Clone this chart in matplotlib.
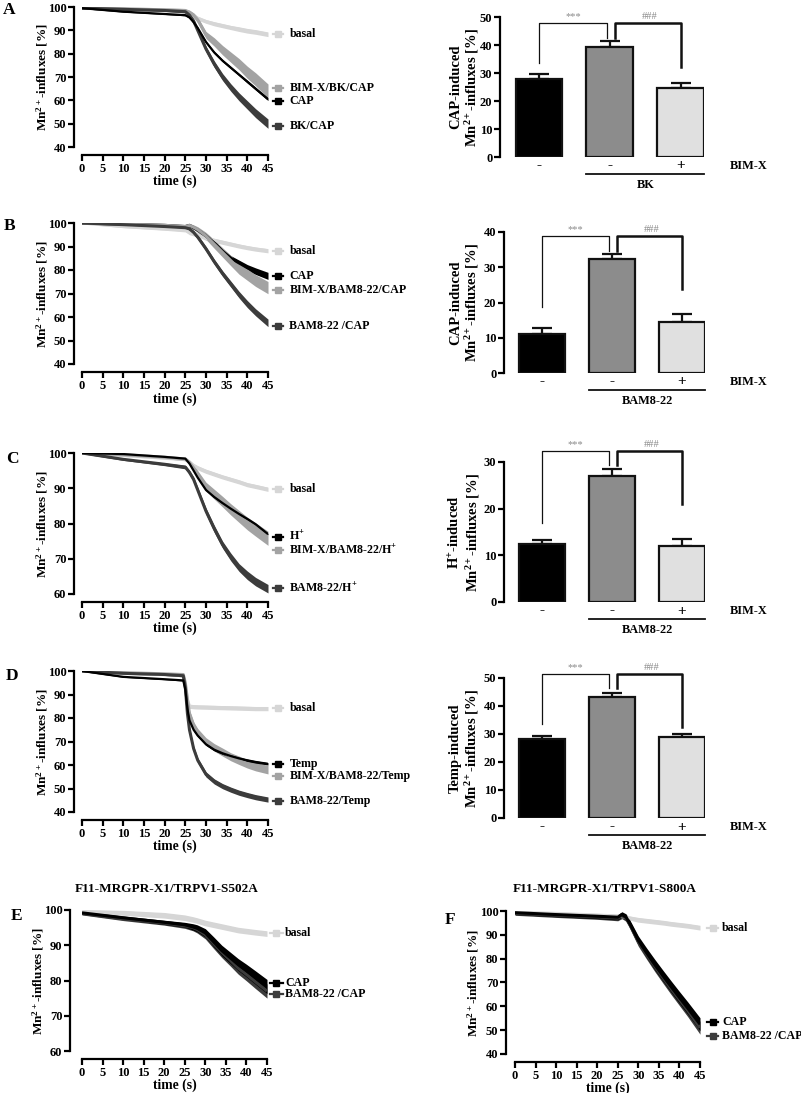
import matplotlib
matplotlib.use('Agg')
import matplotlib.pyplot as plt
from matplotlib.transforms import offset_copy
import numpy as np

plt.rcParams['font.family'] = ['Liberation Serif', 'DejaVu Serif']
plt.rcParams['font.weight'] = 'bold'
plt.rcParams['mathtext.fontset'] = 'custom'
plt.rcParams['mathtext.rm'] = 'Liberation Serif:bold'
plt.rcParams['mathtext.it'] = 'Liberation Serif:italic:bold'
plt.rcParams['mathtext.bf'] = 'Liberation Serif:bold'
plt.rcParams['mathtext.default'] = 'regular'

# ---------------- DATA ----------------
t_std = [0, 10, 20, 25, 26, 27, 28, 30, 32, 34, 36, 38, 40, 42, 45]

# Panel A
A_basal = [99.5, 99.2, 98.8, 98.5, 97.5, 96.2, 95.2, 93.8, 92.8, 92.0, 91.2, 90.5, 89.8, 89.3, 88.3]
A_basal_sem = [0.3, 0.3, 0.4, 0.5, 0.6, 0.7, 0.8, 0.8, 0.9, 0.9, 0.9, 1.0, 1.0, 1.0, 1.0]
A_cap = [99.5, 98.0, 97.0, 96.5, 95.5, 93.5, 91.0, 85.0, 80.5, 77.0, 74.0, 71.0, 68.0, 65.0, 60.5]
A_cap_sem = [0.2, 0.2, 0.2, 0.3, 0.3, 0.3, 0.4, 0.4, 0.5, 0.5, 0.5, 0.5, 0.6, 0.6, 0.6]
A_bim = [99.5, 99.2, 98.8, 98.5, 97.8, 96.5, 94.5, 88.0, 85.0, 81.5, 78.5, 75.5, 72.0, 69.0, 64.0]
A_bim_sem = [0.3, 0.3, 0.4, 0.5, 0.8, 1.0, 1.2, 1.5, 1.8, 2.0, 2.2, 2.4, 2.6, 2.8, 3.0]
A_bk = [99.5, 99.0, 98.5, 98.0, 96.5, 94.0, 90.0, 82.0, 75.5, 70.0, 65.5, 61.5, 58.0, 54.5, 50.0]
A_bk_sem = [0.3, 0.3, 0.4, 0.5, 0.7, 0.9, 1.0, 1.2, 1.4, 1.5, 1.6, 1.7, 1.8, 1.9, 2.0]

# Panel B
B_basal = [100, 98.5, 97.5, 97.0, 96.0, 95.5, 95.0, 93.5, 92.6, 91.8, 91.0, 90.2, 89.5, 88.9, 88.2]
B_basal_sem = [0.4, 0.5, 0.6, 0.8, 1.0, 1.0, 0.9, 0.9, 0.9, 0.9, 0.9, 0.9, 0.9, 0.9, 0.9]
B_cap = [100, 99.5, 99.0, 98.5, 99.0, 98.0, 97.0, 94.5, 91.5, 88.0, 85.0, 83.0, 81.0, 79.5, 77.5]
B_cap_sem = [0.4, 0.4, 0.4, 0.5, 0.6, 0.6, 0.7, 0.8, 0.9, 1.0, 1.1, 1.2, 1.3, 1.4, 1.5]
B_bim = [100, 99.5, 99.0, 98.5, 99.0, 98.2, 97.2, 94.5, 91.0, 87.5, 84.0, 80.5, 78.0, 75.5, 72.5]
B_bim_sem = [0.4, 0.4, 0.5, 0.6, 0.8, 1.0, 1.2, 1.5, 1.8, 2.0, 2.2, 2.3, 2.4, 2.5, 2.6]
B_bam = [100, 99.3, 98.5, 98.0, 97.5, 96.0, 94.0, 89.0, 83.5, 78.5, 74.0, 69.5, 65.5, 62.0, 57.5]
B_bam_sem = [0.4, 0.4, 0.5, 0.6, 0.7, 0.8, 0.9, 1.0, 1.1, 1.2, 1.3, 1.4, 1.5, 1.5, 1.6]

# Panel C
C_basal = [100, 99.3, 98.6, 98.2, 97.5, 96.5, 95.8, 94.8, 94.0, 93.2, 92.5, 91.8, 91.0, 90.5, 89.7]
C_basal_sem = [0.3, 0.3, 0.4, 0.4, 0.5, 0.5, 0.6, 0.6, 0.6, 0.6, 0.6, 0.6, 0.6, 0.6, 0.6]
C_h = [100, 99.7, 98.9, 98.4, 97.0, 95.0, 93.0, 89.5, 87.5, 85.8, 84.2, 82.7, 81.3, 79.8, 77.0]
C_h_sem = [0.1, 0.1, 0.1, 0.2, 0.2, 0.2, 0.2, 0.2, 0.2, 0.2, 0.2, 0.2, 0.2, 0.2, 0.2]
C_bim = [100, 99.5, 98.8, 98.3, 97.3, 95.8, 94.0, 90.5, 88.3, 86.2, 84.0, 82.0, 80.0, 78.3, 75.8]
C_bim_sem = [0.2, 0.3, 0.4, 0.5, 0.6, 0.8, 1.0, 1.2, 1.4, 1.5, 1.6, 1.7, 1.8, 1.9, 2.0]
C_bam = [100, 98.2, 96.8, 96.0, 94.5, 92.5, 89.5, 83.5, 78.5, 74.0, 70.5, 67.5, 65.3, 63.5, 61.5]
C_bam_sem = [0.2, 0.3, 0.4, 0.5, 0.6, 0.7, 0.8, 0.9, 1.0, 1.0, 1.1, 1.1, 1.2, 1.2, 1.2]

# Panel D
t_D = [0, 10, 20, 24.5, 25, 25.5, 26, 27, 28, 30, 32, 34, 36, 38, 40, 42, 45]
D_basal = [100, 99, 98.5, 98.3, 94, 88, 85, 84.8, 84.7, 84.6, 84.5, 84.4, 84.3, 84.2, 84.1, 84.0, 84.0]
D_basal_sem = [0.3, 0.4, 0.5, 0.6, 1.0, 1.0, 0.9, 0.9, 0.9, 0.9, 0.9, 0.9, 0.9, 0.9, 0.9, 0.9, 0.9]
D_temp = [100, 97.5, 96.5, 96.0, 92, 84, 79, 75, 72.5, 68.8, 66.5, 65.0, 63.8, 62.8, 62.0, 61.3, 60.5]
D_temp_sem = [0.2, 0.2, 0.2, 0.3, 0.5, 0.6, 0.6, 0.5, 0.5, 0.5, 0.5, 0.5, 0.5, 0.5, 0.5, 0.5, 0.5]
D_bim = [100, 99.3, 98.8, 98.5, 95, 88, 82, 77, 74, 70, 67.5, 65.5, 63.5, 62, 60.5, 59.3, 58.0]
D_bim_sem = [0.2, 0.3, 0.4, 0.5, 1.0, 1.2, 1.3, 1.4, 1.5, 1.6, 1.6, 1.7, 1.7, 1.8, 1.8, 1.8, 1.8]
D_bam = [100, 99, 98.5, 98.0, 93, 82, 75, 67, 62, 56, 53, 51, 49.5, 48.2, 47.2, 46.3, 45.3]
D_bam_sem = [0.2, 0.3, 0.4, 0.5, 1.0, 1.1, 1.1, 1.1, 1.1, 1.1, 1.1, 1.1, 1.1, 1.1, 1.1, 1.1, 1.1]

# Panel E
t_E = [0, 10, 20, 25, 27, 28, 30, 32, 34, 36, 38, 40, 42, 45]
E_basal = [99.5, 99.2, 98.5, 97.8, 97.3, 97.0, 96.3, 95.8, 95.3, 94.8, 94.3, 94.0, 93.7, 93.3]
E_basal_sem = [0.6, 0.7, 0.8, 0.8, 0.8, 0.8, 0.8, 0.8, 0.8, 0.8, 0.8, 0.8, 0.8, 0.8]
E_cap = [99.2, 97.8, 96.5, 95.8, 95.2, 94.8, 93.5, 91.0, 88.5, 86.5, 84.5, 82.8, 81.0, 78.3]
E_cap_sem = [0.4, 0.5, 0.6, 0.7, 0.9, 1.0, 1.2, 1.4, 1.5, 1.6, 1.7, 1.8, 1.9, 2.0]
E_bam = [99.0, 97.5, 96.3, 95.5, 95.0, 94.5, 93.0, 90.5, 88.0, 85.8, 83.5, 81.7, 79.8, 77.0]
E_bam_sem = [0.4, 0.5, 0.6, 0.7, 0.9, 1.0, 1.2, 1.4, 1.5, 1.6, 1.7, 1.8, 1.9, 2.0]

# Panel F
F_basal = [99.5, 99.0, 98.3, 97.9, 97.6, 97.3, 97.0, 96.3, 95.9, 95.5, 95.1, 94.6, 94.2, 93.8, 93.0]
F_basal_sem = [0.5, 0.6, 0.7, 0.8, 0.9, 0.9, 0.9, 1.0, 1.0, 1.0, 1.0, 1.0, 1.0, 1.0, 1.0]
F_cap = [99.3, 98.5, 97.8, 97.4, 98.5, 97.5, 94.5, 87.7, 82.5, 77.5, 72.8, 68.2, 63.7, 59.3, 52.5]
F_cap_sem = [0.8, 0.9, 1.0, 1.1, 1.2, 1.3, 1.5, 1.8, 2.0, 2.2, 2.3, 2.4, 2.5, 2.6, 2.7]
F_bam = [99.0, 98.2, 97.5, 97.0, 98.0, 97.0, 94.0, 87.0, 81.8, 76.8, 72.0, 67.3, 62.8, 58.3, 51.0]
F_bam_sem = [0.8, 0.9, 1.0, 1.1, 1.2, 1.3, 1.5, 1.8, 2.0, 2.2, 2.3, 2.4, 2.5, 2.6, 2.7]

# Bar panels: [BK/BAM -, BK/BAM -, + BIM-X]
bar_under = ['-', '-', '+']
A_bar = [27.8, 39.3, 24.5]; A_bar_err = [1.8, 2.1, 1.8]
B_bar = [11.2, 32.2, 14.5]; B_bar_err = [1.7, 1.6, 2.3]
C_bar = [12.4, 26.9, 12.1]; C_bar_err = [0.8, 1.5, 1.5]
D_bar = [28.2, 43.2, 28.8]; D_bar_err = [1.2, 1.5, 1.3]

xticks_line = [0, 5, 10, 15, 20, 25, 30, 35, 40, 45]

# ---------------- STYLE ----------------
W, H = 801, 1093
fig = plt.figure(figsize=(W / 100, H / 100), dpi=100)
C_BASAL = '#d6d6d6'
C_GRAY = '#a3a3a3'
C_DARK = '#3c3c3c'
C_BLACK = '#000000'
FS = 9
FS_LEG = 8.6
LW = 2.2
YLAB_LINE = 'Mn$^{2+}$-influxes [%]'


def add_ax(l, r, t, b):
    return fig.add_axes([l / W, 1 - b / H, (r - l) / W, (b - t) / H])


def style_ax(ax):
    for s in ['top', 'right']:
        ax.spines[s].set_visible(False)
    for s in ['left', 'bottom']:
        ax.spines[s].set_linewidth(1.6)
    ax.tick_params(direction='out', length=4, width=1.6, labelsize=FS, pad=1.5)
    for lab in ax.get_xticklabels() + ax.get_yticklabels():
        lab.set_fontweight('bold')


def line_panel(rect, xoff, t, series, ylim, yticks, legend, leg_x, ylab_x, spine_px):
    l, r, tp, b = rect
    ax = add_ax(l, r, tp, b)
    for (mean, sem, col, lw) in series:
        m = np.array(mean); s = np.array(sem)
        ax.fill_between(t, m - s, m + s, color=col, lw=0, zorder=2)
        ax.plot(t, m, color=col, lw=lw, zorder=3, solid_capstyle='butt')
    ax.set_xlim(0, 45)
    ax.set_ylim(*ylim)
    ax.set_xticks(xticks_line)
    ax.set_yticks(yticks)
    ax.spines['left'].set_position(('outward', xoff * 0.72))
    ax.spines['bottom'].set_position(('outward', 8 * 0.72))
    style_ax(ax)
    x0, x1, xt = leg_x
    for (lab, yv, col) in legend:
        ax.plot([x0, x1], [yv, yv], color=col, lw=1.6, clip_on=False, zorder=5)
        ax.plot([(x0 + x1) / 2], [yv], marker='s', ms=4.5, color=col, clip_on=False, zorder=5)
        ax.text(xt, yv, lab, fontsize=FS_LEG, fontweight='bold', va='center', ha='left')
    fig.text(ylab_x / W, 1 - ((tp + b) / 2) / H, YLAB_LINE, rotation=90,
             fontsize=9.5, fontweight='bold', ha='center', va='center')
    fig.text(((l + r) / 2) / W, 1 - (spine_px + 26) / H, 'time (s)', fontsize=9.8,
             fontweight='bold', ha='center', va='center')
    return ax


def bar_panel(rect, vals, errs, ylim, yticks, ylab, treat, br):
    l, r, tp, b = rect
    ax = add_ax(l, r, tp, b)
    pos = [0, 1, 2]
    cols = [C_BLACK, '#8c8c8c', '#e0e0e0']
    ax.bar(pos, vals, width=0.66, color=cols, edgecolor='#111111', lw=1.6, zorder=3)
    ax.errorbar(pos, vals, yerr=[[0, 0, 0], errs], fmt='none', ecolor='#111111',
                elinewidth=1.6, capsize=7, capthick=1.6, zorder=2)
    ax.set_xlim(-0.549, 2.33)
    ax.set_ylim(*ylim)
    ax.set_yticks(yticks)
    ax.spines['bottom'].set_visible(False)
    ax.set_xticks([])
    style_ax(ax)
    top, lbot, mbot, rbot = br
    ax.plot([0, 0, 0.955, 0.955], [lbot, top, top, mbot], color='#111111', lw=0.9, clip_on=False)
    ax.plot([1.075, 1.075, 2, 2], [mbot, top, top, rbot], color='#111111', lw=1.8, clip_on=False)
    ax.annotate('***', xy=(0.48, top), xytext=(0, 1.5), textcoords='offset points',
                ha='center', va='bottom', fontsize=7.5, color='#8a8a8a', fontweight='normal',
                annotation_clip=False)
    ax.annotate('###', xy=(1.56, top), xytext=(0, 1.5), textcoords='offset points',
                ha='center', va='bottom', fontsize=7.5, color='#8a8a8a', fontweight='normal',
                annotation_clip=False)
    for p, s in zip(pos, bar_under):
        ax.annotate(s, xy=(p, ylim[0]), xytext=(0, -9 * 0.72), textcoords='offset points',
                    ha='center', va='center', fontsize=11, fontweight='bold', annotation_clip=False)
    ax.annotate('BIM-X', xy=(2.69, ylim[0]), xytext=(0, -9 * 0.72), textcoords='offset points',
                ha='left', va='center', fontsize=8.8, fontweight='bold', annotation_clip=False)
    trl = offset_copy(ax.transData, fig=fig, x=0, y=-17, units='dots')
    ax.plot([0.67, 2.33], [ylim[0], ylim[0]], color='#111111', lw=1.3, transform=trl, clip_on=False)
    ax.annotate(treat, xy=(1.5, ylim[0]), xytext=(0, -28 * 0.72), textcoords='offset points',
                ha='center', va='center', fontsize=8.8, fontweight='bold', annotation_clip=False)
    fig.text(465 / W, 1 - ((tp + b) / 2) / H, ylab, rotation=90, fontsize=10.5,
             fontweight='bold', ha='center', va='center', multialignment='center',
             linespacing=1.1)
    return ax


# ---------------- PANEL A ----------------
line_panel((82, 268, 7, 147), 8, t_std,
           [(A_basal, A_basal_sem, C_BASAL, LW), (A_bim, A_bim_sem, C_GRAY, LW),
            (A_bk, A_bk_sem, C_DARK, LW), (A_cap, A_cap_sem, C_BLACK, 1.6)],
           (40, 100), [40, 50, 60, 70, 80, 90, 100],
           [('basal', 88.5, C_BASAL), ('BIM-X/BK/CAP', 65.1, C_GRAY),
            ('CAP', 59.7, C_BLACK), ('BK/CAP', 49.0, C_DARK)],
           (46.2, 48.6, 50.2), 42, 155)
bar_panel((500, 704, 17, 157), A_bar, A_bar_err, (0, 50), [0, 10, 20, 30, 40, 50],
          'CAP-induced\n' + YLAB_LINE, 'BK', (47.9, 33.7, 42.5, 32.0))

# ---------------- PANEL B ----------------
line_panel((82, 268, 223, 364), 8, t_std,
           [(B_basal, B_basal_sem, C_BASAL, LW), (B_cap, B_cap_sem, C_BLACK, LW),
            (B_bim, B_bim_sem, C_GRAY, LW), (B_bam, B_bam_sem, C_DARK, LW)],
           (40, 100), [40, 50, 60, 70, 80, 90, 100],
           [('basal', 88.2, C_BASAL), ('CAP', 77.3, C_BLACK),
            ('BIM-X/BAM8-22/CAP', 71.3, C_GRAY), ('BAM8-22 /CAP', 56.3, C_DARK)],
           (46.2, 48.6, 50.2), 42, 373)
bar_panel((504, 705, 232, 373), B_bar, B_bar_err, (0, 40), [0, 10, 20, 30, 40],
          'CAP-induced\n' + YLAB_LINE, 'BAM8-22', (38.9, 18.7, 34.6, 23.8))

# ---------------- PANEL C ----------------
line_panel((82, 268, 453, 594), 8, t_std,
           [(C_basal, C_basal_sem, C_BASAL, LW), (C_bim, C_bim_sem, C_GRAY, LW),
            (C_bam, C_bam_sem, C_DARK, LW), (C_h, C_h_sem, C_BLACK, 1.6)],
           (60, 100), [60, 70, 80, 90, 100],
           [('basal', 89.8, C_BASAL), ('H$^{+}$', 76.3, C_BLACK),
            ('BIM-X/BAM8-22/H$^{+}$', 72.5, C_GRAY), ('BAM8-22/H$^{+}$', 61.6, C_DARK)],
           (46.2, 48.6, 50.2), 42, 602)
bar_panel((504, 705, 462, 602), C_bar, C_bar_err, (0, 30), [0, 10, 20, 30],
          'H$^{+}$-induced\n' + YLAB_LINE, 'BAM8-22', (32.4, 17.0, 29.4, 21.0))

# ---------------- PANEL D ----------------
line_panel((82, 268, 671, 812), 8, t_D,
           [(D_basal, D_basal_sem, C_BASAL, LW), (D_bim, D_bim_sem, C_GRAY, LW),
            (D_bam, D_bam_sem, C_DARK, LW), (D_temp, D_temp_sem, C_BLACK, 1.6)],
           (40, 100), [40, 50, 60, 70, 80, 90, 100],
           [('basal', 84.4, C_BASAL), ('Temp', 60.3, C_BLACK),
            ('BIM-X/BAM8-22/Temp', 55.3, C_GRAY), ('BAM8-22/Temp', 44.7, C_DARK)],
           (46.2, 48.6, 50.2), 42, 820)
bar_panel((504, 705, 678, 818), D_bar, D_bar_err, (0, 50), [0, 10, 20, 30, 40, 50],
          'Temp-induced\n' + YLAB_LINE, 'BAM8-22', (51.4, 33.6, 46.4, 32.5))

# ---------------- PANEL E ----------------
line_panel((82, 267, 910, 1051), 12, t_E,
           [(E_basal, E_basal_sem, C_BASAL, LW), (E_bam, E_bam_sem, C_DARK, LW),
            (E_cap, E_cap_sem, C_BLACK, LW)],
           (60, 100), [60, 70, 80, 90, 100],
           [('basal', 93.6, C_BASAL), ('CAP', 79.3, C_BLACK), ('BAM8-22 /CAP', 76.3, C_DARK)],
           (45.7, 48.9, 49.4), 38, 1059)
fig.text(167 / W, 1 - 889 / H, 'F11-MRGPR-X1/TRPV1-S502A', fontsize=9.5, fontweight='bold',
         ha='center', va='center')

# ---------------- PANEL F ----------------
line_panel((515, 700, 911, 1054), 9, t_std,
           [(F_basal, F_basal_sem, C_BASAL, LW), (F_bam, F_bam_sem, C_DARK, LW),
            (F_cap, F_cap_sem, C_BLACK, LW)],
           (40, 100), [40, 50, 60, 70, 80, 90, 100],
           [('basal', 93.0, C_BASAL), ('CAP', 53.6, C_BLACK), ('BAM8-22 /CAP', 47.6, C_DARK)],
           (46.7, 49.4, 50.4), 473, 1062)
fig.text(605 / W, 1 - 889 / H, 'F11-MRGPR-X1/TRPV1-S800A', fontsize=9.5, fontweight='bold',
         ha='center', va='center')

# panel letters (baseline positions)
for lab, x, y in [('A', 9, 14), ('B', 10, 230), ('C', 12, 463), ('D', 12, 680),
                  ('E', 17, 920), ('F', 450, 924)]:
    fig.text(x / W, 1 - y / H, lab, fontsize=12.5, fontweight='bold', ha='center', va='baseline')

fig.savefig('out.png', dpi=100)
